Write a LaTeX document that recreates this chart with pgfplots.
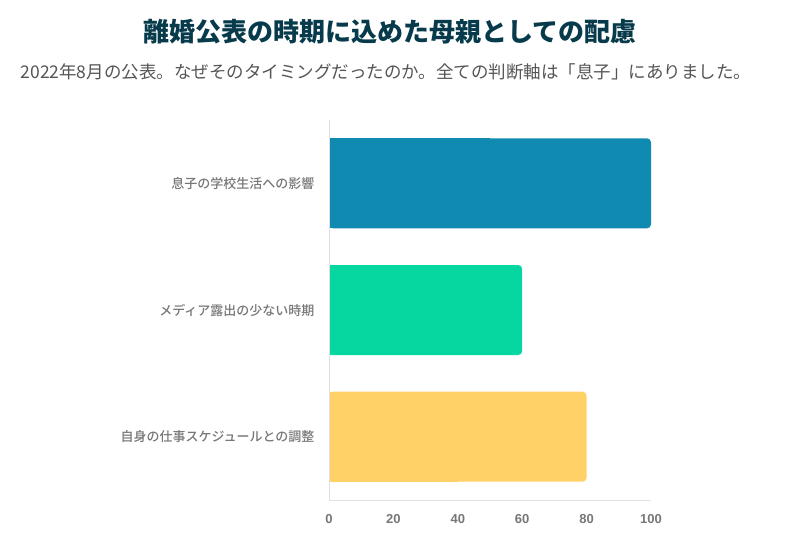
\documentclass[border=0pt]{standalone}
\usepackage{pgfplots}
\pgfplotsset{compat=1.18}
\usepackage{fontspec}
\setmainfont{Liberation Sans}
\newfontfamily\cjk{Noto Sans CJK JP}
\newfontfamily\cjkm{Noto Sans CJK JP Medium}
\definecolor{cblue}{HTML}{118AB2}
\definecolor{cgreen}{HTML}{06D6A0}
\definecolor{cyellow}{HTML}{FFD166}
\definecolor{ctitle}{HTML}{073B4C}
\definecolor{csub}{HTML}{555555}
\definecolor{ctick}{HTML}{777777}
\definecolor{caxis}{HTML}{E0E0E0}
\begin{document}
\begin{tikzpicture}[x=1pt,y=1pt]
\path[use as bounding box, fill=white] (0,0) rectangle (805,549);
\node[anchor=center, text=ctitle, font=\cjk\bfseries\fontsize{26}{29}\selectfont] at (390,517) {離婚公表の時期に込めた母親としての配慮};
\node[anchor=center, text=csub, font=\cjk\fontsize{17.5}{20}\selectfont] at (386,477) {2022年8月の公表。なぜそのタイミングだったのか。全ての判断軸は「息子」にありました。};
\begin{axis}[
  at={(329pt,49pt)}, anchor=south west,
  scale only axis, width=322pt, height=380pt,
  xbar, bar width=90pt, bar shift=0pt,
  xmin=0, xmax=100, ymin=-0.5, ymax=2.5,
  y dir=reverse,
  ytick={0,1,2},
  yticklabels={息子の学校生活への影響, メディア露出の少ない時期, 自身の仕事スケジュールとの調整},
  yticklabel style={font=\cjkm\fontsize{13}{14}\selectfont, text=ctick},
  xtick={0,20,40,60,80,100},
  xticklabel style={font=\bfseries\fontsize{13}{15}\selectfont, text=ctick},
  /pgf/number format/assume math mode=true,
  axis x line*=bottom, axis y line*=left,
  axis line style={caxis, line width=1pt},
  x axis line style={-}, y axis line style={-},
  major tick length=0pt,
  xticklabel shift=11pt, yticklabel shift=11pt,
  axis on top,
  clip=false,
]
\addplot[draw=none, fill=cblue, rounded corners=4pt] coordinates {(100,0)};
\addplot[draw=none, fill=cgreen, rounded corners=4pt] coordinates {(60,1)};
\addplot[draw=none, fill=cyellow, rounded corners=4pt] coordinates {(80,2)};
% square left ends (same colours, under the rounded right ends)
\addplot[draw=none, fill=cblue] coordinates {(50,0)};
\addplot[draw=none, fill=cgreen] coordinates {(30,1)};
\addplot[draw=none, fill=cyellow] coordinates {(40,2)};
\end{axis}
\end{tikzpicture}
\end{document}
